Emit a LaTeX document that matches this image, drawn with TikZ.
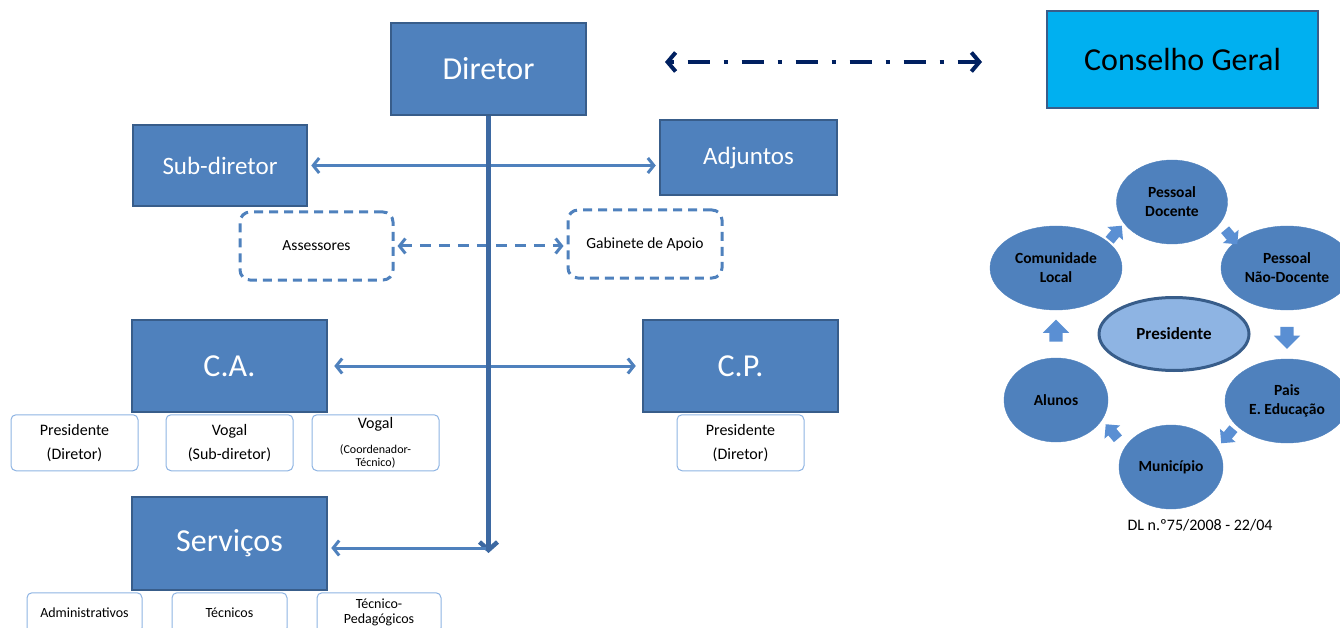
\documentclass[tikz,border=0pt]{standalone}
\usepackage{fontspec}
\setmainfont{Carlito}
\usetikzlibrary{arrows.meta,positioning,shapes.geometric,shapes.arrows,calc}

\definecolor{boxblue}{HTML}{4F81BD}
\definecolor{boxedge}{HTML}{385D8A}
\definecolor{linedark}{HTML}{3D69A2}
\definecolor{cgcyan}{HTML}{00B0F0}
\definecolor{navy}{HTML}{002060}
\definecolor{lightedge}{HTML}{8EB4E3}
\definecolor{presfill}{HTML}{8EB4E3}
\definecolor{blockarr}{HTML}{5A8FD3}

\begin{document}
\begin{tikzpicture}[x=1pt, y=-1pt,
    node distance=1pt and 18pt,
    bigbox/.style={draw=boxedge, fill=boxblue, line width=2.5pt, text=white, inner sep=0pt,
      minimum width=195pt, minimum height=92pt, font=\fontsize{32}{36}\selectfont},
    midbox/.style={bigbox, font=\fontsize{25}{30}\selectfont},
    subbox/.style={draw=lightedge, line width=1pt, rounded corners=5pt, fill=white, align=center,
      minimum width=127pt, minimum height=56pt, inner sep=0pt, font=\fontsize{16}{24}\selectfont},
    servbox/.style={subbox, minimum width=115pt, minimum height=40pt, font=\fontsize{14}{15}\selectfont},
    dashbox/.style={draw=boxblue, dash pattern=on 9pt off 6pt, line width=3pt, rounded corners=10pt,
      minimum width=153pt, minimum height=68pt, inner sep=0pt, font=\fontsize{15.5}{18}\selectfont},
    circ/.style={ellipse, fill=boxblue, draw=boxblue, inner sep=0pt, align=center,
      minimum width=104pt, minimum height=84pt, font=\fontsize{15.5}{19}\selectfont\bfseries},
    blockarrow/.style={single arrow, fill=blockarr, inner xsep=0pt, inner ysep=6.5pt,
      minimum height=22pt, minimum width=26pt, single arrow head extend=6.5pt},
    smallarrow/.style={blockarrow, inner ysep=5pt, minimum height=19pt, minimum width=20pt,
      single arrow head extend=5pt},
    conn/.style={{Straight Barb[length=6pt,width=15pt]}-{Straight Barb[length=6pt,width=15pt]},
      draw=boxblue, line width=3pt, shorten <=3pt, shorten >=3pt},
    dconn/.style={conn, dash pattern=on 11pt off 8pt},
    vline/.style={-{Straight Barb[length=8pt,width=18pt]}, draw=linedark, line width=4.5pt},
    cgarr/.style={{Straight Barb[length=8pt,width=19pt]}-{Straight Barb[length=8pt,width=19pt]},
      draw=navy, line width=4pt, dash pattern=on 4pt off 14pt on 22pt off 14pt}
  ]
    \clip (0,0) rectangle (1340,628);

    % top row
    \node[bigbox] (dir) at (488.5,69) {Diretor};
    \node[bigbox, fill=cgcyan, text=black, minimum width=271pt, minimum height=97pt] (cg) at (1182.5,59.5) {Conselho Geral};
    \coordinate (cgl) at (665,62);
    \coordinate (cgr) at (982,62);

    \node[midbox, minimum width=174pt, minimum height=81pt] (sub) at (220,165.5) {Sub-diretor};
    \node[midbox, minimum width=177pt, minimum height=75pt] (adj) at (748.5,157.5) {Adjuntos};

    \node[dashbox] (ass) at (316.5,246) {Assessores};
    \node[dashbox, minimum width=154pt] (gab) at (645,244) {Gabinete de Apoio};

    % conselhos
    \node[bigbox] (ca) at (229.5,366) {C.A.};
    \node[bigbox] (cp) at (740.5,366) {C.P.};
    \node[subbox, below=of ca] (cavog) {Vogal\\(Sub-diretor)};
    \node[subbox, left=27pt of cavog] (capres) {Presidente\\(Diretor)};
    \node[subbox, right=of cavog] (cacoord) {Vogal\\[1pt]{\fontsize{12}{13}\selectfont(Coordenador-}\\[-11pt]{\fontsize{12}{13}\selectfont Técnico)}};
    \node[subbox, below=of cp] (cppres) {Presidente\\(Diretor)};

    % servicos
    \node[bigbox, minimum height=93pt] (serv) at (229.5,543.5) {Serviços};
    \node[servbox, below=of serv] (tec) {Técnicos};
    \node[servbox, left=29pt of tec] (adm) {Administrativos};
    \node[servbox, right=29pt of tec, minimum width=124pt] (tped) {Técnico-\\Pedagógicos};

    \coordinate (vend) at (488.5,553);
    \coordinate (junc) at (488.5,548);

    \draw[cgarr] (cgl) -- (cgr);
    \draw[conn] (sub.east) -- (sub.east -| adj.west);
    \draw[dconn] (ass.east) -- (ass.east -| gab.west);
    \draw[conn, shorten <=6pt, shorten >=6pt] (ca.east) -- (cp.west);
    \draw[vline] (dir.south) -- (vend);
    \draw[conn, -{Straight Barb[length=6pt,width=15pt]}] (junc) -- (junc -| serv.east);

    % conselho geral members
    \node[circ, minimum width=111pt] (pd) at (1172,202) {Pessoal\\Docente};
    \node[circ, minimum width=132pt] (cl) at (1056,268) {Comunidade\\Local};
    \node[circ, minimum width=132pt] (pnd) at (1287,268) {Pessoal\\Não-Docente};
    \node[circ, minimum width=124pt] (pais) at (1287,401) {Pais\\E. Educação};
    \node[circ] (mun) at (1171,467) {Município};
    \node[circ] (alu) at (1056,400) {Alunos};
    \node[circ, fill=presfill, draw=boxedge, line width=3pt, minimum width=150pt, minimum height=73pt,
      font=\fontsize{17}{20}\selectfont\bfseries] (pres) at (1174,334) {Presidente};

    \foreach \a/\b/\r in {cl/pd/50, pd/pnd/-50, pais/mun/-130, mun/alu/130}
      \node[smallarrow, rotate=\r] (ba-\a) at ($(\a)!0.5!(\b)$) {};
    \foreach \a/\b/\r in {pnd/pais/-90, alu/cl/90}
      \node[blockarrow, rotate=\r] (ba-\a) at ($(\a)!0.5!(\b)$) {};

    \node[font=\fontsize{16}{18}\selectfont] (dl) at (1200,525) {DL n.º75/2008 - 22/04};
\end{tikzpicture}
\end{document}
